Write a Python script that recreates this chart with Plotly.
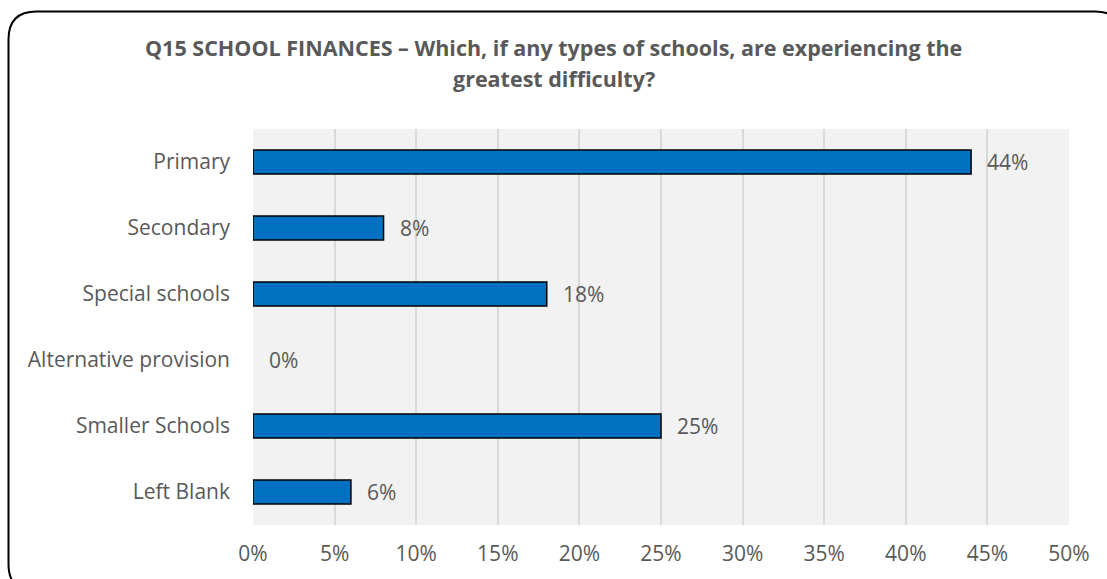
import plotly.graph_objects as go

categories = ["Primary", "Secondary", "Special schools", "Alternative provision",
              "Smaller Schools", "Left Blank"]
values = [44, 8, 18, 0, 25, 6]
tick_vals = [0, 5, 10, 15, 20, 25, 30, 35, 40, 45, 50]
tick_text = [f"{v}%" for v in tick_vals]
title_lines = ["Q15 SCHOOL FINANCES – Which, if any types of schools, are experiencing the",
               "greatest difficulty?"]

W, H = 1107, 579
ML, MR, MT, MB = 253, 38, 129, 54
PW, PH = W - ML - MR, H - MT - MB

FONT = "Open Sans"
GREY = "#595959"


def px(x):
    return (x - ML) / PW


def py(y):
    return (H - MB - y) / PH


fig = go.Figure()
fig.add_trace(go.Bar(
    x=values, y=categories, orientation="h",
    marker=dict(color="#0070C0",
                line=dict(color="#000000", width=[1.5 if v > 0 else 0 for v in values])),
    width=0.36, hoverinfo="skip",
))

# value labels just past each bar end
for cat, v in zip(categories, values):
    fig.add_annotation(x=v, y=cat, text=f"{v}%", showarrow=False,
                       xanchor="left", yanchor="middle", xshift=14,
                       font=dict(family=FONT, size=21, color=GREY))

# two-line bold title centred on the page
for i, line in enumerate(title_lines):
    fig.add_annotation(x=px(W / 2), y=py(47 + 32 * i), xref="paper", yref="paper",
                       text=f"<b>{line}</b>", showarrow=False,
                       xanchor="center", yanchor="middle",
                       font=dict(family=FONT, size=21.5, color=GREY))

# rounded outer frame (runs past the right and bottom page edges)
L, T, R, B, r = 8.5, 11.5, 1123, 592, 28
path = (f"M {px(L)},{py(T + r)} Q {px(L)},{py(T)} {px(L + r)},{py(T)} "
        f"L {px(R - r)},{py(T)} Q {px(R)},{py(T)} {px(R)},{py(T + r)} "
        f"L {px(R)},{py(B - r)} Q {px(R)},{py(B)} {px(R - r)},{py(B)} "
        f"L {px(L + r)},{py(B)} Q {px(L)},{py(B)} {px(L)},{py(B - r)} Z")
fig.add_shape(type="path", path=path, xref="paper", yref="paper",
              line=dict(color="#000000", width=2), layer="above")

fig.update_layout(
    width=W, height=H,
    margin=dict(l=ML, r=MR, t=MT, b=MB, pad=0),
    paper_bgcolor="#FFFFFF", plot_bgcolor="#F2F2F2",
    showlegend=False,
    xaxis=dict(range=[0, 50], tickvals=tick_vals, ticktext=tick_text,
               showgrid=True, gridcolor="#D9D9D9", gridwidth=1.5,
               zeroline=False, showline=False, ticks="",
               tickfont=dict(family=FONT, size=21, color=GREY), ticklabelstandoff=14),
    yaxis=dict(autorange="reversed", showgrid=False, zeroline=False, ticks="",
               tickfont=dict(family=FONT, size=21, color=GREY), ticklabelstandoff=22),
    font=dict(family=FONT),
)

fig.write_html("out.html")
